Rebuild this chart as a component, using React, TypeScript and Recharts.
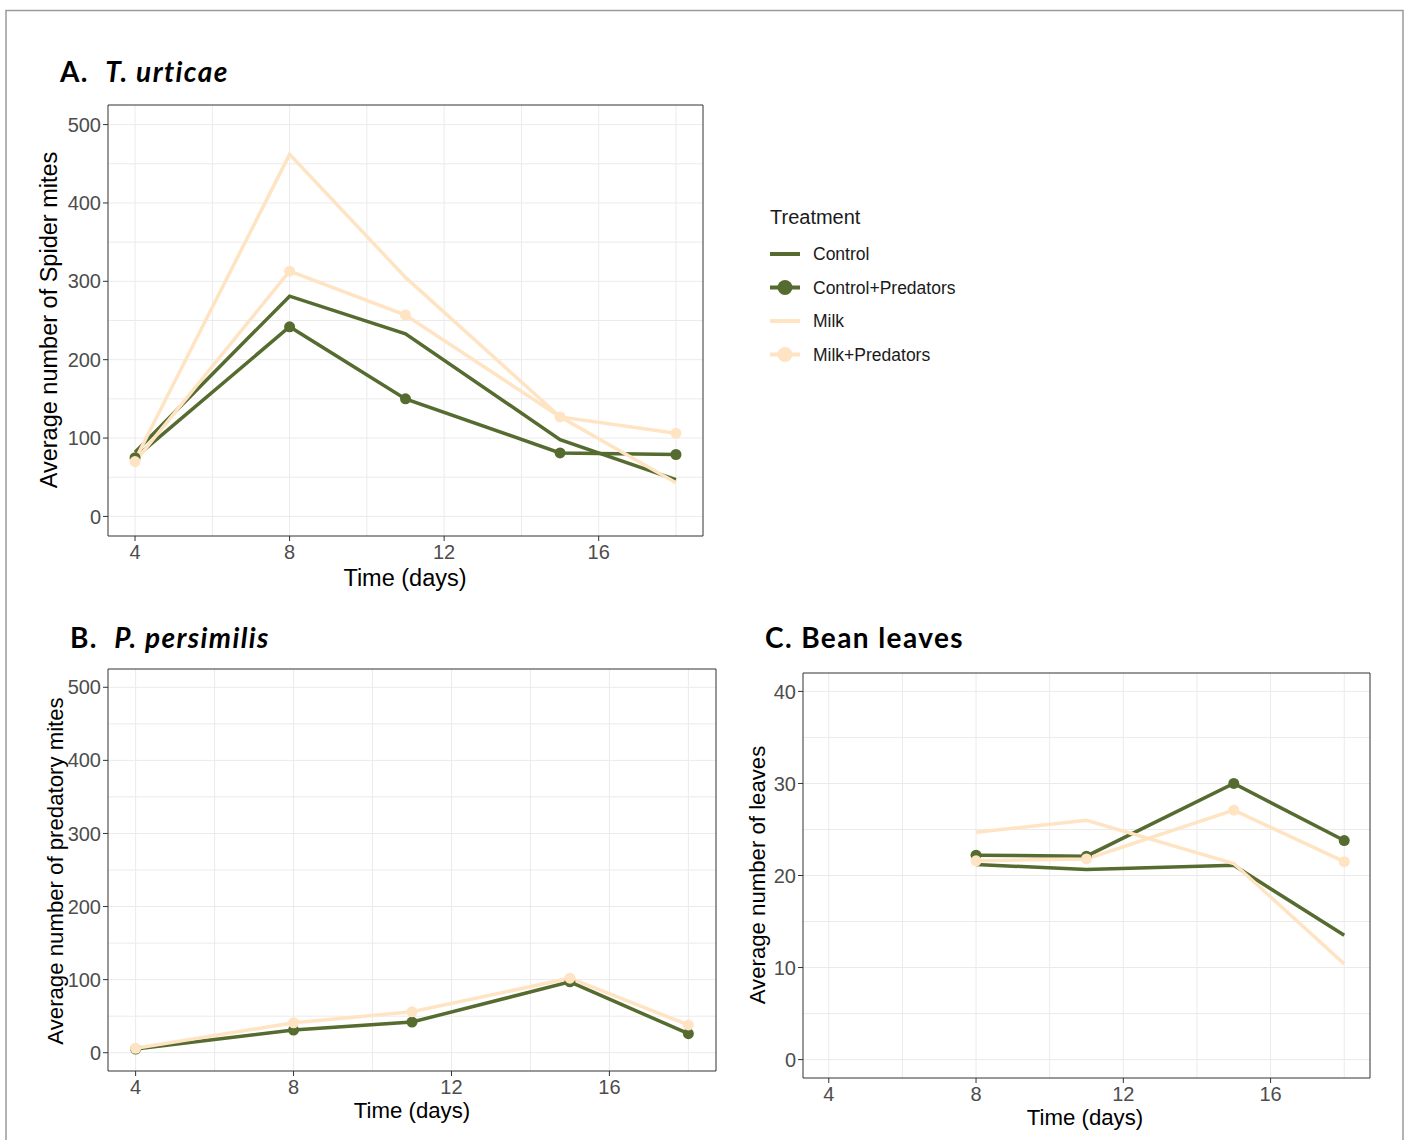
import React from 'react';
import { LineChart, Line, XAxis, YAxis, CartesianGrid, ReferenceArea } from 'recharts';

// sampling days
const daysAB = [4, 8, 11, 15, 18];
const daysC = [8, 11, 15, 18];

// A. T. urticae (spider mites)
const aControl = [82, 281, 233, 98, 47];
const aControlPred = [75, 242, 150, 81, 79];
const aMilk = [72, 462, 305, 127, 43];
const aMilkPred = [70, 313, 257, 127, 106];

// B. P. persimilis (predatory mites)
const bControlPred = [5, 31, 42, 97, 26];
const bMilkPred = [6, 41, 56, 102, 38];

// C. Bean leaves
const cControl = [21.2, 20.65, 21.1, 13.5];
const cControlPred = [22.2, 22.1, 30, 23.8];
const cMilk = [24.7, 26, 21.3, 10.4];
const cMilkPred = [21.6, 21.8, 27.1, 21.5];

const xTicks = [4, 8, 12, 16];
const xGrid = [4, 6, 8, 10, 12, 14, 16, 18];
const miteTicks = [0, 100, 200, 300, 400, 500];
const miteGrid = [0, 50, 100, 150, 200, 250, 300, 350, 400, 450, 500];
const leafTicks = [0, 10, 20, 30, 40];
const leafGrid = [0, 5, 10, 15, 20, 25, 30, 35, 40];

const treatments = ['Control', 'Control+Predators', 'Milk', 'Milk+Predators'];

const GREEN = '#556B2F';
const BISQUE = '#FFE4C4';
const AXIS_FONT = '"Liberation Sans", Arial, sans-serif';

const rows = (days: number[], series: Record<string, (number | null)[]>) =>
  days.map((day, i) => {
    const r: Record<string, number | null> = { day };
    Object.keys(series).forEach((k) => (r[k] = series[k][i]));
    return r;
  });

const dataA = rows(daysAB, { control: aControl, controlPred: aControlPred, milk: aMilk, milkPred: aMilkPred });
const dataB = rows(daysAB, { controlPred: bControlPred, milkPred: bMilkPred });
const dataC = rows(daysC, { control: cControl, controlPred: cControlPred, milk: cMilk, milkPred: cMilkPred });

const tickStyle = { fill: '#4d4d4d', fontSize: 20, fontFamily: AXIS_FONT };

interface PanelProps {
  data: Record<string, number | null>[];
  width: number;
  height: number;
  margin: { top: number; right: number; bottom: number; left: number };
  yDomain: [number, number];
  yTicks: number[];
  yGrid: number[];
  keys: string[];
}

const seriesStyle: Record<string, { color: string; dot: boolean }> = {
  control: { color: GREEN, dot: false },
  controlPred: { color: GREEN, dot: true },
  milk: { color: BISQUE, dot: false },
  milkPred: { color: BISQUE, dot: true },
};

const Panel: React.FC<PanelProps> = ({ data, width, height, margin, yDomain, yTicks, yGrid, keys }) => (
  <LineChart width={width} height={height} data={data} margin={margin}>
    <CartesianGrid stroke="#ebebeb" strokeWidth={1} horizontalValues={yGrid} verticalValues={xGrid} />
    <XAxis
      dataKey="day"
      type="number"
      domain={[3.3, 18.7]}
      ticks={xTicks}
      allowDataOverflow
      height={30}
      axisLine={false}
      tickLine={{ stroke: '#333333' }}
      tickSize={5}
      tickMargin={4}
      tick={tickStyle}
    />
    <YAxis
      type="number"
      domain={yDomain}
      ticks={yTicks}
      allowDataOverflow
      width={60}
      axisLine={false}
      tickLine={{ stroke: '#333333' }}
      tickSize={5}
      tick={tickStyle}
    />
    {keys.map((k) => (
      <Line
        key={k}
        type="linear"
        dataKey={k}
        stroke={seriesStyle[k].color}
        strokeWidth={3.5}
        dot={seriesStyle[k].dot ? { r: 5.5, fill: seriesStyle[k].color, stroke: 'none' } : false}
        activeDot={false}
        isAnimationActive={false}
      />
    ))}
    <ReferenceArea x1={3.3} x2={18.7} y1={yDomain[0]} y2={yDomain[1]} fill="none" stroke="#333333" strokeWidth={1} ifOverflow="visible" />
  </LineChart>
);

const legendKeys = [
  { color: GREEN, dot: false },
  { color: GREEN, dot: true },
  { color: BISQUE, dot: false },
  { color: BISQUE, dot: true },
];

const App: React.FC = () => {
  const titleStyle = {
    fontFamily: 'Lato, "Open Sans", sans-serif',
    fontWeight: 700,
    fontSize: 28,
    letterSpacing: 1.4,
    whiteSpace: 'pre' as const,
  };
  const axisTitle = { fontFamily: AXIS_FONT, fontSize: 23.5, fill: '#000' };
  const axisTitleSm = { ...axisTitle, fontSize: 22.2 };
  return (
    <div style={{ position: 'absolute', left: 0, top: 0, width: 1408, height: 1140, background: '#fff', overflow: 'hidden' }}>
      <svg width={1408} height={1140} style={{ position: 'absolute', left: 0, top: 0 }}>
        <rect x={6} y={10.5} width={1397} height={1200} fill="none" stroke="#9a9a9a" strokeWidth={1.5} />
        <text x={60} y={82} style={titleStyle}>
          <tspan>A.  </tspan>
          <tspan fontStyle="italic">T. urticae</tspan>
        </text>
        <text x={70} y={648} style={titleStyle}>
          <tspan>B.  </tspan>
          <tspan fontStyle="italic">P. persimilis</tspan>
        </text>
        <text x={765} y={648} style={titleStyle}>C. Bean leaves</text>

        <text x={405} y={578} textAnchor="middle" dominantBaseline="central" style={axisTitle}>Time (days)</text>
        <text x={412} y={1110} textAnchor="middle" dominantBaseline="central" style={axisTitleSm}>Time (days)</text>
        <text x={1085} y={1117} textAnchor="middle" dominantBaseline="central" style={axisTitleSm}>Time (days)</text>
        <text transform="translate(49,320) rotate(-90)" textAnchor="middle" dominantBaseline="central" style={axisTitle}>Average number of Spider mites</text>
        <text transform="translate(55,871) rotate(-90)" textAnchor="middle" dominantBaseline="central" style={axisTitleSm}>Average number of predatory mites</text>
        <text transform="translate(757,875) rotate(-90)" textAnchor="middle" dominantBaseline="central" style={axisTitleSm}>Average number of leaves</text>

        <text x={770} y={224} style={{ fontFamily: AXIS_FONT, fontSize: 20, fill: '#1a1a1a' }}>Treatment</text>
        {treatments.map((name, i) => {
          const y = 254 + i * 33.5;
          const k = legendKeys[i];
          return (
            <g key={name}>
              <line x1={770} x2={800} y1={y} y2={y} stroke={k.color} strokeWidth={4} />
              {k.dot && <circle cx={785} cy={y} r={7.5} fill={k.color} />}
              <text x={813} y={y} dominantBaseline="central" style={{ fontFamily: AXIS_FONT, fontSize: 17.5, fill: '#1a1a1a' }}>
                {name}
              </text>
            </g>
          );
        })}
      </svg>

      <div style={{ position: 'absolute', left: 0, top: 0 }}>
        <Panel
          data={dataA}
          width={720}
          height={600}
          margin={{ top: 105, right: 17, bottom: 34, left: 48 }}
          yDomain={[-25, 525]}
          yTicks={miteTicks}
          yGrid={miteGrid}
          keys={['control', 'controlPred', 'milk', 'milkPred']}
        />
      </div>
      <div style={{ position: 'absolute', left: 0, top: 600 }}>
        <Panel
          data={dataB}
          width={730}
          height={540}
          margin={{ top: 69, right: 14, bottom: 39, left: 48 }}
          yDomain={[-25, 525]}
          yTicks={miteTicks}
          yGrid={miteGrid}
          keys={['controlPred', 'milkPred']}
        />
      </div>
      <div style={{ position: 'absolute', left: 730, top: 600 }}>
        <Panel
          data={dataC}
          width={678}
          height={540}
          margin={{ top: 73, right: 38, bottom: 32, left: 13 }}
          yDomain={[-2, 42]}
          yTicks={leafTicks}
          yGrid={leafGrid}
          keys={['control', 'controlPred', 'milk', 'milkPred']}
        />
      </div>
    </div>
  );
};

export default App;
